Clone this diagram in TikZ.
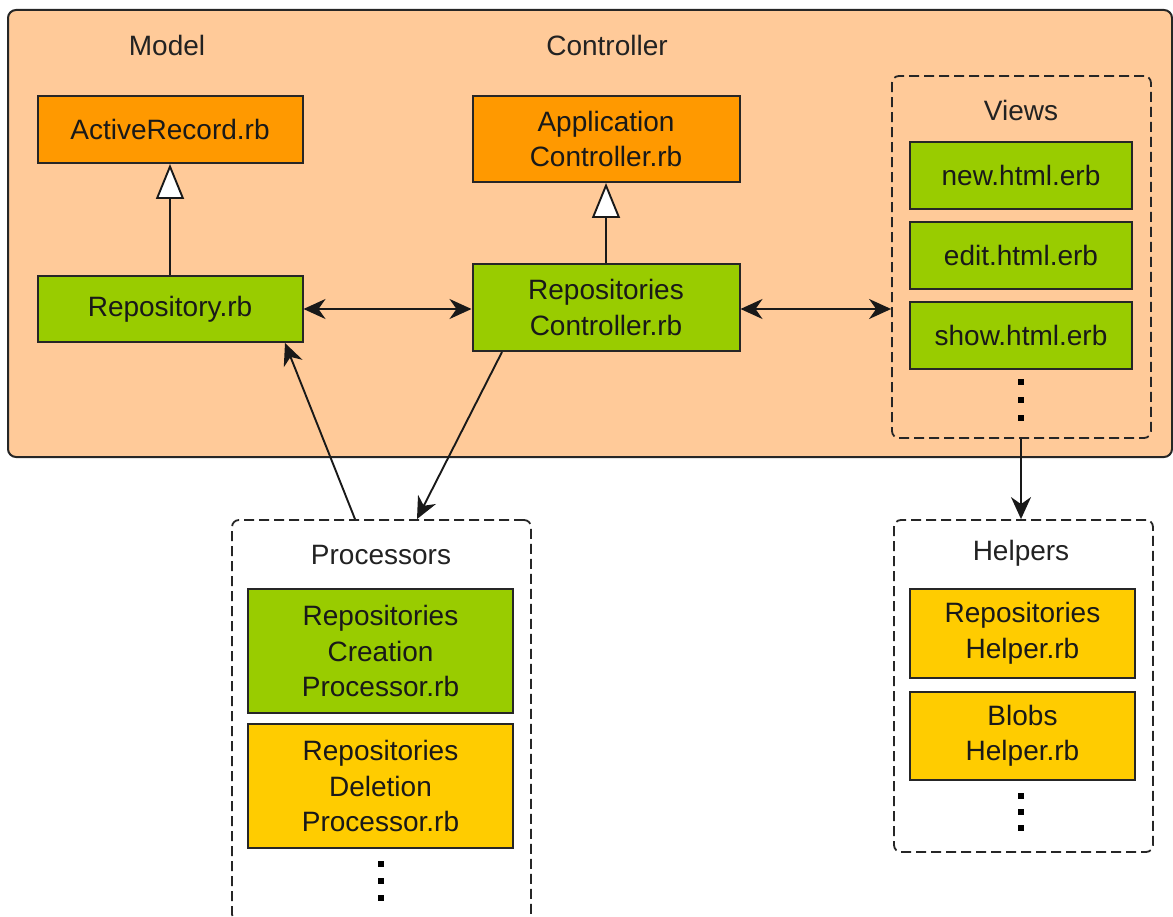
\documentclass[tikz,border=0pt]{standalone}
\usepackage{fontspec}
\setmainfont{Liberation Sans}
\usetikzlibrary{arrows.meta}
\definecolor{peach}{HTML}{FFCA99}
\definecolor{orangebox}{HTML}{FF9900}
\definecolor{greenbox}{HTML}{99CC00}
\definecolor{yellowbox}{HTML}{FFCC00}
\definecolor{darktext}{HTML}{222222}
\tikzset{
  fbox/.style={draw=black!85, line width=2pt, align=center, inner sep=0pt,
    font=\fontsize{28}{35.5}\selectfont, text=black!90},
  orangefile/.style={fbox, fill=orangebox},
  greenfile/.style={fbox, fill=greenbox},
  yellowfile/.style={fbox, fill=yellowbox},
  groupbox/.style={draw=black!85, line width=1.8pt, dash pattern=on 10pt off 5pt, rounded corners=7pt, inner sep=0pt},
  grouplabel/.style={font=\fontsize{28}{34}\selectfont, text=darktext, inner sep=0pt},
  dotsq/.style={fill=black, minimum size=6pt, inner sep=0pt},
  conn/.style={line width=1.9pt, draw=black!90},
  twoway/.style={conn, {Stealth[length=22pt,width=20pt,inset=7pt]}-{Stealth[length=22pt,width=20pt,inset=7pt]}},
  oneway/.style={conn, -{Stealth[length=22pt,width=20pt,inset=7pt]}},
  inherit/.style={conn, -{Triangle[open, fill=white, length=35pt, width=28pt, line width=1.9pt]}},
}
\begin{document}
\begin{tikzpicture}[x=1pt, y=-1pt]
\useasboundingbox (0,0) rectangle (1173,917);
% outer container
\node[draw=black!85, line width=2pt, fill=peach, rounded corners=8pt, minimum width=1164pt, minimum height=447pt, inner sep=0pt] (outer) at (590,233.5) {};
\node[grouplabel] (modellbl) at (167,45) {Model};
\node[grouplabel] (ctrllbl) at (607,45) {Controller};
% model
\node[orangefile, minimum width=265pt, minimum height=67pt] (ar) at (170,129.5) {ActiveRecord.rb};
\node[greenfile, minimum width=265pt, minimum height=66pt] (repo) at (170,309) {Repository.rb};
% controller
\node[orangefile, minimum width=267pt, minimum height=86pt] (appc) at (606,139) {Application\\Controller.rb};
\node[greenfile, minimum width=267pt, minimum height=87pt] (repc) at (606,307.5) {Repositories\\Controller.rb};
% views
\node[groupbox, fill=peach, minimum width=259pt, minimum height=362pt] (views) at (1021.5,257) {};
\node[grouplabel] (viewslbl) at (1021,110) {Views};
\node[greenfile, minimum width=222pt, minimum height=67pt] (newv) at (1021,175.5) {new.html.erb};
\node[greenfile, minimum width=222pt, minimum height=67pt] (editv) at (1021,255.5) {edit.html.erb};
\node[greenfile, minimum width=222pt, minimum height=67pt] (showv) at (1021,335.5) {show.html.erb};
\node[dotsq] (vd1) at (1021,382) {};
\node[dotsq] (vd2) at (1021,400) {};
\node[dotsq] (vd3) at (1021,418) {};
% helpers
\node[groupbox, fill=white, minimum width=259pt, minimum height=332pt] (helpers) at (1023.5,686) {};
\node[grouplabel] (helperslbl) at (1021,553) {Helpers};
\node[yellowfile, minimum width=225pt, minimum height=89pt] (rh) at (1022.5,633.5) {Repositories\\Helper.rb};
\node[yellowfile, minimum width=225pt, minimum height=88pt] (bh) at (1022.5,736) {Blobs\\Helper.rb};
\node[dotsq] (hd1) at (1021,796) {};
\node[dotsq] (hd2) at (1021,812) {};
\node[dotsq] (hd3) at (1021,828) {};
% processors
\node[groupbox, fill=white, minimum width=299pt, minimum height=401pt] (proc) at (381.5,720.5) {};
\node[grouplabel] (proclbl) at (381,555) {Processors};
\node[greenfile, minimum width=265pt, minimum height=124pt] (rcp) at (380.5,651) {Repositories\\Creation\\Processor.rb};
\node[yellowfile, minimum width=265pt, minimum height=124pt] (rdp) at (380.5,786) {Repositories\\Deletion\\Processor.rb};
\node[dotsq] (pd1) at (381,864) {};
\node[dotsq] (pd2) at (381,881) {};
\node[dotsq] (pd3) at (381,898) {};
% connectors
\draw[inherit] (repo.north) -- (ar.south);
\draw[inherit] (repc.north) -- (appc.south);
\draw[twoway] (repo.east) -- (repo.east -| repc.west);
\draw[twoway] (repc.east |- repo.east) -- (repo.east -| views.west);
\draw[oneway] (views.south -| vd3) -- (vd3 |- helpers.north);
\draw[oneway] ([xshift=-26.5pt]proc.north) -- ([xshift=115pt]repo.south);
\draw[oneway] ([xshift=-104pt]repc.south) -- ([xshift=35.5pt]proc.north);
\end{tikzpicture}
\end{document}
